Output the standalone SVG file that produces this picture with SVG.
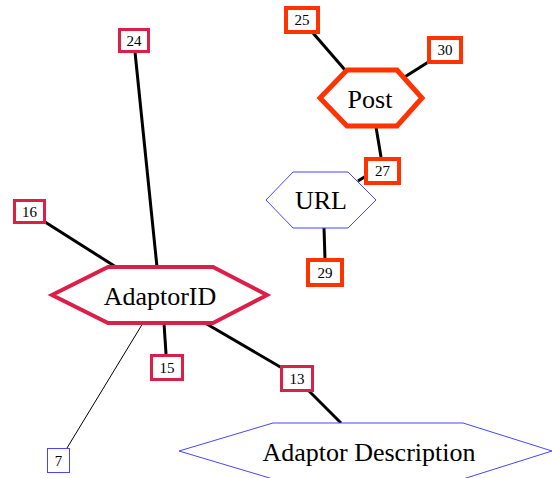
<svg xmlns="http://www.w3.org/2000/svg" width="552" height="478" viewBox="0 0 552 478">
  <style>
    .lbl { font-family: "Liberation Serif", "Times New Roman", serif; fill: #000; text-anchor: middle; }
    .big { font-size: 26px; }
    .small { font-size: 15px; }
    .edge { stroke: #000; stroke-width: 3; fill: none; }
    .thin { stroke: #000; stroke-width: 1; fill: none; }
    .crim { fill: #fff; stroke: #dc1f48; stroke-width: 3; }
    .crimhex { fill: #fff; stroke: #dc1f48; stroke-width: 4; }
    .orng { fill: #fff; stroke: #ff3300; stroke-width: 4; }
    .ornghex { fill: #fff; stroke: #ff3300; stroke-width: 5; }
    .blue { fill: #fff; stroke: #4646ff; stroke-width: 1; }
  </style>
  <g id="edges">
    <line class="edge" x1="135" y1="52" x2="157" y2="267"/>
    <line class="edge" x1="45" y1="222" x2="116" y2="267"/>
    <line class="edge" x1="164" y1="323" x2="166" y2="354"/>
    <line class="edge" x1="205" y1="323" x2="282" y2="368"/>
    <line class="edge" x1="309" y1="391" x2="341" y2="423"/>
    <line class="thin" x1="143" y1="323" x2="67" y2="448"/>
    <line class="edge" x1="313" y1="33" x2="345" y2="70"/>
    <line class="edge" x1="430" y1="61" x2="403" y2="78"/>
    <line class="edge" x1="376" y1="127" x2="381" y2="157"/>
    <line class="edge" x1="366" y1="176" x2="358" y2="181"/>
    <line class="edge" x1="324" y1="228" x2="325" y2="259"/>
  </g>
  <g id="AdaptorID">
    <polygon class="crimhex" points="52,295 108,267 213,267 267,295 213,323 108,323"/>
    <text class="lbl big" x="160" y="305">AdaptorID</text>
  </g>
  <g id="Post">
    <polygon class="ornghex" points="320,98 347,70 397,70 422,98 397,126 347,126"/>
    <text class="lbl big" x="370" y="108">Post</text>
  </g>
  <g id="URL">
    <polygon class="blue" points="266,200 293,172 348,172 376,200 348,228 293,228"/>
    <text class="lbl big" x="321" y="209">URL</text>
  </g>
  <g id="AdaptorDescription">
    <polygon class="blue" points="179,451 273,423 463,423 552,451 463,479 273,479"/>
    <text class="lbl big" x="369" y="461">Adaptor Description</text>
  </g>
  <g id="n24">
    <rect class="crim" x="119.5" y="29.5" width="29" height="22"/>
    <text class="lbl small" x="134" y="46">24</text>
  </g>
  <g id="n16">
    <rect class="crim" x="14.5" y="200.5" width="30" height="22"/>
    <text class="lbl small" x="29.5" y="217">16</text>
  </g>
  <g id="n15">
    <rect class="crim" x="151.5" y="355.5" width="31" height="24"/>
    <text class="lbl small" x="167" y="373">15</text>
  </g>
  <g id="n13">
    <rect class="crim" x="281.5" y="366.5" width="31" height="24"/>
    <text class="lbl small" x="297" y="384">13</text>
  </g>
  <g id="n7">
    <rect class="blue" x="47.5" y="448.5" width="22" height="24"/>
    <text class="lbl small" x="58.5" y="466">7</text>
  </g>
  <g id="n25">
    <rect class="orng" x="286" y="8" width="32" height="24"/>
    <text class="lbl small" x="302" y="25">25</text>
  </g>
  <g id="n30">
    <rect class="orng" x="429" y="38" width="32" height="24"/>
    <text class="lbl small" x="445" y="55">30</text>
  </g>
  <g id="n27">
    <rect class="orng" x="366" y="159" width="33" height="24"/>
    <text class="lbl small" x="382.5" y="176">27</text>
  </g>
  <g id="n29">
    <rect class="orng" x="308" y="260" width="34" height="25"/>
    <text class="lbl small" x="325" y="278">29</text>
  </g>
</svg>
